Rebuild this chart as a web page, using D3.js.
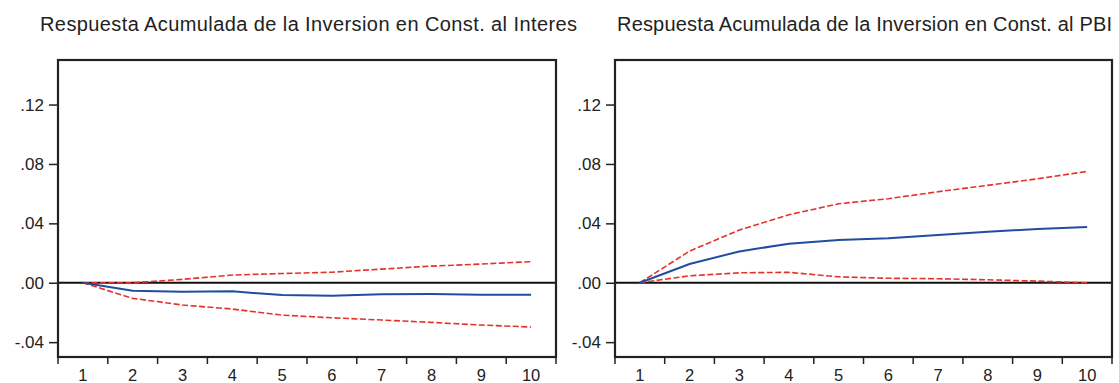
<!DOCTYPE html>
<html>
<head>
<meta charset="utf-8">
<script src="https://cdn.jsdelivr.net/npm/d3@7"></script>
<style>
  html, body { margin: 0; padding: 0; background: #fff; }
  svg { display: block; }
  text { font-family: "Liberation Sans", Arial, Helvetica, sans-serif; fill: #222; }
</style>
</head>
<body>
<svg id="chart" width="1119" height="383"></svg>
<script>
// Horizon periods
const periods = [1, 2, 3, 4, 5, 6, 7, 8, 9, 10];
const yTicks = [-0.04, 0.00, 0.04, 0.08, 0.12];
const yTickLabels = ["-.04", ".00", ".04", ".08", ".12"];

// Accumulated response of construction investment to the interest rate
const interesResp  = [0, -0.0054, -0.0060, -0.0058, -0.0083, -0.0087, -0.0077, -0.0076, -0.0080, -0.0080];
const interesUpper = [0,  0.0000,  0.0023,  0.0052,  0.0062,  0.0071,  0.0092,  0.0112,  0.0126,  0.0142];
const interesLower = [0, -0.0105, -0.0150, -0.0177, -0.0218, -0.0236, -0.0251, -0.0267, -0.0285, -0.0298];

// Accumulated response of construction investment to GDP
const pbiResp  = [0, 0.0126, 0.0211, 0.0263, 0.0288, 0.0299, 0.0321, 0.0343, 0.0362, 0.0375];
const pbiUpper = [0, 0.0213, 0.0355, 0.0458, 0.0532, 0.0566, 0.0613, 0.0656, 0.0700, 0.0750];
const pbiLower = [0, 0.0047, 0.0067, 0.0070, 0.0040, 0.0030, 0.0027, 0.0020, 0.0011, 0.0000];

const panels = [
  { title: "Respuesta Acumulada de la Inversion en Const. al Interes",
    resp: interesResp, upper: interesUpper, lower: interesLower,
    left: 58, right: 556, titleX: 308.5, titleW: 537 },
  { title: "Respuesta Acumulada de la Inversion en Const. al PBI",
    resp: pbiResp, upper: pbiUpper, lower: pbiLower,
    left: 615, right: 1112, titleX: 864.5, titleW: 495 }
];

const svg = d3.select("#chart");
const plotTop = 60, plotBottom = 357;

panels.forEach(p => {
  const g = svg.append("g");
  const x = d3.scaleBand().domain(periods).range([p.left, p.right]).padding(0);
  const y = d3.scaleLinear().domain([-0.05, 0.15]).range([plotBottom, plotTop]);
  const cx = d => x(d) + x.bandwidth() / 2;

  // Title
  g.append("text")
    .attr("x", p.titleX)
    .attr("y", 31)
    .attr("text-anchor", "middle")
    .attr("textLength", p.titleW)
    .attr("lengthAdjust", "spacing")
    .style("font-size", "20px")
    .text(p.title);

  // Y axis (ticks pointing outward)
  const yAxis = d3.axisLeft(y)
    .tickValues(yTicks)
    .tickFormat((d, i) => yTickLabels[i])
    .tickSize(9)
    .tickPadding(5);
  const ya = g.append("g").attr("transform", `translate(${p.left},0)`).call(yAxis);
  ya.select(".domain").remove();
  ya.selectAll(".tick line").attr("stroke", "#222").attr("stroke-width", 1.5);
  ya.selectAll(".tick text")
    .style("font-size", "17px")
    .style("font-family", "'Liberation Sans', Arial, sans-serif")
    .attr("fill", "#222");

  // X axis: ticks at band edges, labels centered in bands
  const edges = periods.map(d => x(d)).concat([p.right]);
  g.selectAll(".xtick").data(edges).join("line")
    .attr("x1", d => d).attr("x2", d => d)
    .attr("y1", plotBottom).attr("y2", plotBottom + 7)
    .attr("stroke", "#222").attr("stroke-width", 1.5);
  g.selectAll(".xlab").data(periods).join("text")
    .attr("x", d => cx(d))
    .attr("y", 381)
    .attr("text-anchor", "middle")
    .style("font-size", "16.5px")
    .text(d => d);

  // Zero reference line
  g.append("line")
    .attr("x1", p.left).attr("x2", p.right)
    .attr("y1", y(0)).attr("y2", y(0))
    .attr("stroke", "#111").attr("stroke-width", 2);

  const line = d3.line().x((d, i) => cx(periods[i])).y(d => y(d));

  // Confidence bands
  [p.upper, p.lower].forEach(band => {
    g.append("path").datum(band)
      .attr("d", line)
      .attr("fill", "none")
      .attr("stroke", "#e8302b")
      .attr("stroke-width", 1.6)
      .attr("stroke-dasharray", "6,2.5");
  });

  // Point response
  g.append("path").datum(p.resp)
    .attr("d", line)
    .attr("fill", "none")
    .attr("stroke", "#1f4ea1")
    .attr("stroke-width", 2);

  // Frame
  g.append("rect")
    .attr("x", p.left).attr("y", plotTop)
    .attr("width", p.right - p.left).attr("height", plotBottom - plotTop)
    .attr("fill", "none")
    .attr("stroke", "#222")
    .attr("stroke-width", 2.2);
});
</script>
</body>
</html>
